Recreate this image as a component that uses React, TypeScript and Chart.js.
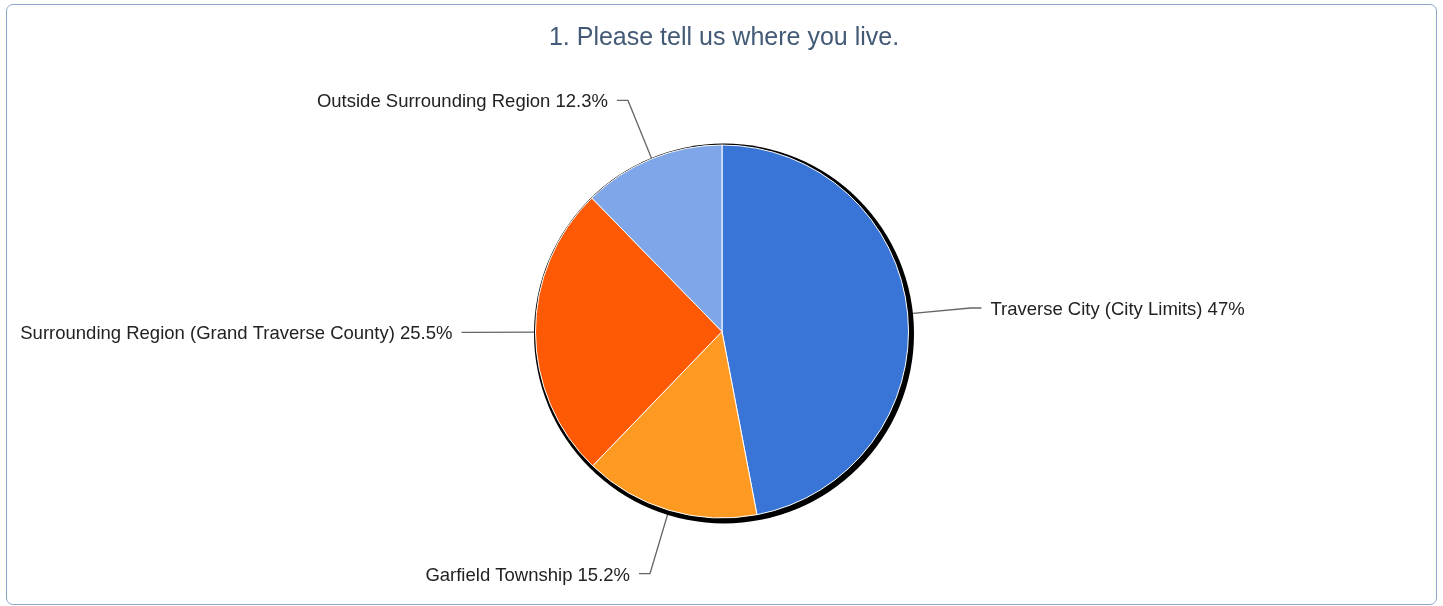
import React, { useEffect, useRef } from "react";
import { Chart, registerables } from "chart.js";

Chart.register(...registerables);

const TITLE = "1. Please tell us where you live.";
const categories = [
  "Traverse City (City Limits)",
  "Garfield Township",
  "Surrounding Region (Grand Traverse County)",
  "Outside Surrounding Region",
];
const values = [47, 15.2, 25.5, 12.3];
const valueLabels = ["47%", "15.2%", "25.5%", "12.3%"];
const colors = ["#3875d7", "#fe9a22", "#fe5a05", "#7fa6e8"];

const FONT = "'Liberation Sans', Arial, sans-serif";

function elbow(cx: number, cy: number, r: number, mid: number) {
  const dx = Math.cos(mid);
  const dy = Math.sin(mid);
  const ext = dy > 0.5 ? 66 : 63;
  return { dx, dy, ex: cx + (r + ext) * dx, ey: cy + (r + ext) * dy };
}

const piePlugin = {
  id: "pieDecor",
  beforeDatasetsDraw(chart: any) {
    const meta = chart.getDatasetMeta(0);
    const arcs = meta.data;
    if (!arcs.length) return;
    const ctx = chart.ctx;
    const cx = arcs[0].x;
    const cy = arcs[0].y;
    const r = arcs[0].outerRadius;
    ctx.save();
    ctx.strokeStyle = "#666";
    ctx.lineWidth = 1.3;
    arcs.forEach((arc: any) => {
      const mid = (arc.startAngle + arc.endAngle) / 2;
      const { dx, dy, ex, ey } = elbow(cx, cy, r, mid);
      const side = dx >= 0 ? 1 : -1;
      ctx.beginPath();
      ctx.moveTo(cx + r * dx, cy + r * dy);
      ctx.lineTo(ex, ey);
      ctx.lineTo(ex + side * 11, ey);
      ctx.stroke();
    });
    ctx.fillStyle = "#000";
    ctx.beginPath();
    ctx.arc(cx + 2, cy + 2, r + 3.5, 0, Math.PI * 2);
    ctx.fill();
    ctx.restore();
  },
  afterDraw(chart: any) {
    const meta = chart.getDatasetMeta(0);
    const arcs = meta.data;
    if (!arcs.length) return;
    const ctx = chart.ctx;
    const cx = arcs[0].x;
    const cy = arcs[0].y;
    const r = arcs[0].outerRadius;
    ctx.save();
    ctx.font = `18.5px ${FONT}`;
    ctx.fillStyle = "#222";
    ctx.textBaseline = "middle";
    arcs.forEach((arc: any, i: number) => {
      const mid = (arc.startAngle + arc.endAngle) / 2;
      const { dx, ex, ey } = elbow(cx, cy, r, mid);
      const side = dx >= 0 ? 1 : -1;
      ctx.textAlign = side > 0 ? "left" : "right";
      ctx.fillText(`${categories[i]} ${valueLabels[i]}`, ex + side * 20, ey + 2);
    });
    ctx.font = `25px ${FONT}`;
    ctx.fillStyle = "#425a75";
    ctx.textAlign = "center";
    ctx.textBaseline = "alphabetic";
    ctx.fillText(TITLE, 724, 45);
    ctx.restore();
  },
};

export default function App() {
  const ref = useRef<HTMLCanvasElement>(null);
  useEffect(() => {
    if (!ref.current) return;
    const chart = new Chart(ref.current, {
      type: "pie",
      data: {
        labels: categories,
        datasets: [
          {
            data: values,
            backgroundColor: colors,
            borderColor: "#ffffff",
            borderWidth: 1,
          },
        ],
      },
      options: {
        responsive: false,
        animation: false,
        devicePixelRatio: 1,
        radius: 186.5,
        layout: { padding: { left: 1, right: 0, top: 57, bottom: 0 } },
        plugins: {
          legend: { display: false },
          title: { display: false },
          tooltip: { enabled: false },
        },
      } as any,
      plugins: [piePlugin],
    });
    return () => chart.destroy();
  }, []);
  return (
    <div style={{ position: "absolute", left: 0, top: 0, width: 1443, height: 606, background: "#fff" }}>
      <div
        style={{
          position: "absolute",
          left: 6,
          top: 4,
          width: 1431,
          height: 601,
          boxSizing: "border-box",
          border: "1.5px solid #8ca7cc",
          borderRadius: 7,
        }}
      />
      <canvas
        ref={ref}
        width={1443}
        height={606}
        style={{ position: "absolute", left: 0, top: 0, display: "block" }}
      />
    </div>
  );
}
